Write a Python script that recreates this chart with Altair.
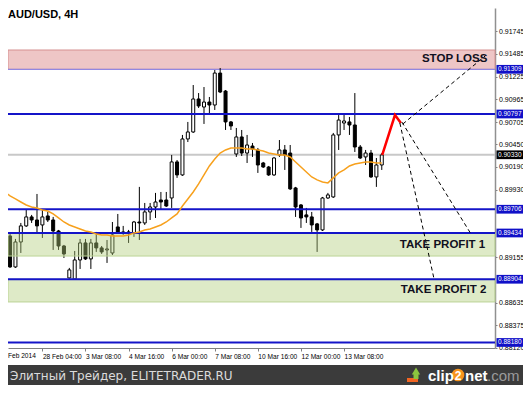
import altair as alt
import pandas as pd

# ---------------- data ----------------
# 4H bar index (k=6 -> 28 Feb 04:00, k=62 -> 13 Mar 08:00)
bar_idx = list(range(-1, 70))
opens = [0.89606, 0.89400, 0.89045, 0.89331, 0.89515, 0.89618, 0.89583, 0.89526, 0.89629, 0.89583,
         0.89457, 0.89285, 0.88919, 0.88907, 0.89125, 0.89320, 0.89137, 0.89320, 0.89263, 0.89240,
         0.89205, 0.89503, 0.89446, 0.89446, 0.89435, 0.89560, 0.89549, 0.89675, 0.89732, 0.89812,
         0.89812, 0.89835, 0.90248, 0.90099, 0.90511, 0.90591, 0.90969, 0.90877, 0.90934, 0.90900,
         0.91266, 0.91060, 0.90706, 0.90339, 0.90534, 0.90350, 0.90430, 0.90385, 0.90236, 0.90190,
         0.90099, 0.90328, 0.90385, 0.90350, 0.89950, 0.89755, 0.89641, 0.89618, 0.89538, 0.89469,
         0.89835, 0.89847, 0.90557, 0.90694, 0.90706, 0.90671, 0.90419, 0.90305, 0.90350, 0.90076,
         0.90213]
highs = [0.89652, 0.89423, 0.89366, 0.89549, 0.89698, 0.89641, 0.89881, 0.89698, 0.89675, 0.89618,
         0.89469, 0.89297, 0.89034, 0.89228, 0.89366, 0.89366, 0.89366, 0.89446, 0.89285, 0.89354,
         0.89560, 0.89652, 0.89515, 0.89469, 0.89572, 0.89962, 0.89778, 0.89778, 0.89893, 0.89904,
         0.89904, 0.90328, 0.90270, 0.90557, 0.90706, 0.91129, 0.91037, 0.91106, 0.90992, 0.91301,
         0.91324, 0.91072, 0.90717, 0.90637, 0.90614, 0.90557, 0.90465, 0.90408, 0.90248, 0.90202,
         0.90305, 0.90499, 0.90442, 0.90442, 0.89962, 0.89766, 0.89721, 0.89675, 0.89549, 0.89847,
         0.89893, 0.90580, 0.90785, 0.90797, 0.90763, 0.91037, 0.90442, 0.90385, 0.90385, 0.90293,
         0.90350]
lows = [0.89400, 0.89034, 0.89034, 0.89205, 0.89503, 0.89549, 0.89435, 0.89377, 0.89560, 0.89240,
        0.89240, 0.89148, 0.88907, 0.88896, 0.89022, 0.89125, 0.89022, 0.89217, 0.89194, 0.89091,
        0.89182, 0.89435, 0.89412, 0.89320, 0.89389, 0.89354, 0.89526, 0.89583, 0.89606, 0.89698,
        0.89732, 0.89721, 0.90065, 0.90088, 0.90476, 0.90580, 0.90866, 0.90683, 0.90808, 0.90843,
        0.91037, 0.90614, 0.90614, 0.90305, 0.90316, 0.90236, 0.90305, 0.90122, 0.90179, 0.90088,
        0.90088, 0.90305, 0.90156, 0.89927, 0.89618, 0.89492, 0.89549, 0.89446, 0.89217, 0.89457,
        0.89824, 0.89835, 0.90385, 0.90614, 0.90557, 0.90362, 0.90282, 0.90213, 0.90065, 0.89962,
        0.90156]
closes = [0.89423, 0.89045, 0.89331, 0.89515, 0.89618, 0.89583, 0.89515, 0.89618, 0.89583, 0.89457,
          0.89285, 0.89194, 0.89011, 0.89125, 0.89320, 0.89137, 0.89320, 0.89263, 0.89217, 0.89251,
          0.89412, 0.89446, 0.89435, 0.89435, 0.89560, 0.89549, 0.89675, 0.89732, 0.89789, 0.89789,
          0.89743, 0.90248, 0.90099, 0.90511, 0.90591, 0.90969, 0.90889, 0.90934, 0.90900, 0.91266,
          0.91049, 0.90706, 0.90660, 0.90534, 0.90350, 0.90442, 0.90396, 0.90213, 0.90190, 0.90099,
          0.90293, 0.90385, 0.90328, 0.89939, 0.89732, 0.89606, 0.89618, 0.89526, 0.89469, 0.89835,
          0.89870, 0.90557, 0.90728, 0.90717, 0.90671, 0.90419, 0.90293, 0.90350, 0.90076, 0.90213,
          0.90328]
moving_avg = [0.89904, 0.89858, 0.89824, 0.89789, 0.89755, 0.89732, 0.89721, 0.89698, 0.89686, 0.89652,
              0.89606, 0.89560, 0.89526, 0.89503, 0.89480, 0.89457, 0.89446, 0.89423, 0.89412, 0.89412,
              0.89400, 0.89400, 0.89400, 0.89412, 0.89435, 0.89446, 0.89469, 0.89480, 0.89503, 0.89526,
              0.89560, 0.89606, 0.89652, 0.89743, 0.89824, 0.89904, 0.89996, 0.90099, 0.90202, 0.90282,
              0.90350, 0.90385, 0.90408, 0.90408, 0.90408, 0.90396, 0.90396, 0.90385, 0.90373, 0.90350,
              0.90339, 0.90328, 0.90328, 0.90305, 0.90248, 0.90190, 0.90133, 0.90076, 0.90042, 0.90019,
              0.90008, 0.90065, 0.90122, 0.90156, 0.90202, 0.90225, 0.90236, 0.90248, 0.90248, 0.90236,
              0.90236]

tick_idx = [6, 14, 22, 30, 38, 46, 54, 62]
tick_labels = ["28 Feb 04:00", "3 Mar 08:00", "4 Mar 16:00", "6 Mar 00:00",
               "7 Mar 08:00", "10 Mar 16:00", "12 Mar 00:00", "13 Mar 08:00"]
first_label = "Feb 2014"

# visible price-scale labels (others are hidden under the level boxes)
price_ticks = [0.91745, 0.91485, 0.91225, 0.90965, 0.90705, 0.90450, 0.90190, 0.89930,
               0.89155, 0.88635, 0.88375, 0.88120]

blue_levels = [0.90797, 0.89706, 0.89434, 0.88904, 0.88180]
sl_level = 0.91309
current_price = 0.90330
boxed_labels = [0.91309, 0.90797, 0.90330, 0.89706, 0.89434, 0.88904, 0.88180]
boxed_colors = ["#1010c8", "#1010c8", "#000000", "#1010c8", "#1010c8", "#1010c8", "#1010c8"]

# zones: (top, bottom)
sl_zone = (0.91530, 0.91309)
tp_zones_top = [0.89434, 0.88904]
tp_zones_bottom = [0.89170, 0.88644]

zone_labels = ["STOP LOSS", "TAKE PROFIT  1", "TAKE PROFIT 2"]
zone_label_price = [0.91427, 0.89296, 0.88781]
zone_label_idx = [88.6, 88.2, 88.4]

# red arrow path (bar index, price)
arrow_idx = [69.09, 71.45, 72.55]
arrow_price = [0.90328, 0.90785, 0.90694]

# dashed projections: start -> end
dash_start_idx = [72.90, 72.73, 72.36]
dash_start_price = [0.90682, 0.90705, 0.90694]
dash_end_idx = [88.18, 85.45, 78.73]
dash_end_price = [0.91461, 0.89434, 0.88900]

# ---------------- scales / axes ----------------
X_SCALE = alt.Scale(domain=[0.5455, 89.0909], nice=False, zero=False)
Y_SCALE = alt.Scale(domain=[0.881166, 0.920112], nice=False, zero=False)

label_expr = " : ".join(f"datum.value == {k} ? '{t}'" for k, t in zip(tick_idx, tick_labels)) + " : ''"

x_axis = alt.Axis(values=tick_idx, labelExpr=label_expr, orient="bottom", title=None, grid=False,
                  tickSize=3, tickColor="#808080", domainColor="#808080", domainWidth=1,
                  labelAlign="left", labelBaseline="top", labelPadding=2, labelFont="Liberation Sans",
                  labelFontSize=6.6, labelColor="#000000", labelFlush=False, labelOverlap=False,
                  labelBound=False)
y_axis = alt.Axis(values=price_ticks, format=".5f", orient="right", title=None, grid=False,
                  tickSize=2, tickColor="#808080", domainColor="#909090", domainWidth=1.5,
                  labelPadding=1.5, labelFont="Liberation Sans", labelFontSize=7,
                  labelColor="#000000", labelFlush=False, labelOverlap=False, labelBound=False)


def X(f):
    return alt.X(f"{f}:Q", scale=X_SCALE, axis=x_axis)


def Y(f):
    return alt.Y(f"{f}:Q", scale=Y_SCALE, axis=y_axis)


candles = pd.DataFrame({"k": bar_idx, "o": opens, "h": highs, "l": lows, "c": closes})
candles["dir"] = ["up" if c >= o else "down" for o, c in zip(opens, closes)]
ma_df = pd.DataFrame({"k": bar_idx, "ma": moving_avg})

sl_df = pd.DataFrame({"top": [sl_zone[0]], "bot": [sl_zone[1]]})
tp_df = pd.DataFrame({"top": tp_zones_top, "bot": tp_zones_bottom})

sl_rect = alt.Chart(sl_df).mark_rect(fill="#eec6c6", stroke="#d59090", strokeWidth=1).encode(
    y=Y("top"), y2="bot")
sl_line = alt.Chart(pd.DataFrame({"p": [sl_level]})).mark_rule(color="#8080f0", strokeWidth=1).encode(y=Y("p"))
grey_line = alt.Chart(pd.DataFrame({"p": [current_price]})).mark_rule(color="#c8c8c8", strokeWidth=2).encode(y=Y("p"))

wicks = alt.Chart(candles).mark_rule(color="#000000", strokeWidth=1, clip=True).encode(
    x=X("k"), y=Y("l"), y2="h")
bodies = alt.Chart(candles).mark_bar(size=3, stroke="#000000", strokeWidth=1, clip=True).encode(
    x=X("k"), y=Y("o"), y2="c",
    fill=alt.Fill("dir:N", scale=alt.Scale(domain=["up", "down"], range=["#ffffff", "#000000"]), legend=None))

tp_rect = alt.Chart(tp_df).mark_rect(fill="#b1cd7a", fillOpacity=0.42, stroke="#bcd496", strokeWidth=1).encode(
    y=Y("top"), y2="bot")

blue_lines = alt.Chart(pd.DataFrame({"p": blue_levels})).mark_rule(color="#1414c8", strokeWidth=2).encode(y=Y("p"))

ma_line = alt.Chart(ma_df).mark_line(color="#f7a01c", strokeWidth=1.5, clip=True).encode(x=X("k"), y=Y("ma"))

arrow_df = pd.DataFrame({"k": arrow_idx, "p": arrow_price, "o": [0, 1, 2]})
arrow = alt.Chart(arrow_df).mark_line(color="#ff0000", strokeWidth=2.5, clip=True).encode(
    x=X("k"), y=Y("p"), order="o:Q")

dash_rows = []
for i in range(3):
    dash_rows.append({"seg": i, "o": 0, "k": dash_start_idx[i], "p": dash_start_price[i]})
    dash_rows.append({"seg": i, "o": 1, "k": dash_end_idx[i], "p": dash_end_price[i]})
dashes = alt.Chart(pd.DataFrame(dash_rows)).mark_line(color="#000000", strokeWidth=1, strokeDash=[4, 3], clip=True).encode(
    x=X("k"), y=Y("p"), detail="seg:N", order="o:Q")

zl_df = pd.DataFrame({"t": zone_labels, "k": zone_label_idx, "p": zone_label_price})
zone_text = alt.Chart(zl_df).mark_text(align="right", baseline="middle", font="Liberation Sans",
                                       fontWeight="bold", fontSize=11.5, color="#101020").encode(
    x=X("k"), y=Y("p"), text="t:N")

box_df = pd.DataFrame({"p": boxed_labels, "col": boxed_colors,
                       "lab": [f"{v:.5f}" for v in boxed_labels]})
box_df["top"] = box_df["p"] + 0.00050
box_df["bot"] = box_df["p"] - 0.00050
boxes = alt.Chart(box_df).mark_rect().encode(
    x=alt.value(488.5), x2=alt.value(516), y=Y("top"), y2="bot",
    fill=alt.Fill("col:N", scale=None))
box_text = alt.Chart(box_df).mark_text(align="left", baseline="middle", font="Liberation Sans",
                                       fontSize=6.5, color="#ffffff").encode(
    x=alt.value(490), y=Y("p"), text="lab:N")

title = alt.Chart(pd.DataFrame({"t": ["AUD/USD, 4H"]})).mark_text(
    align="left", baseline="middle", font="Liberation Sans", fontWeight="bold", fontSize=11,
    color="#000000").encode(x=alt.value(0), y=alt.value(7), text="t:N")

first_lab = alt.Chart(pd.DataFrame({"t": [first_label]})).mark_text(
    align="left", baseline="top", font="Liberation Sans", fontSize=6.6, color="#000000").encode(
    x=alt.value(0), y=alt.value(345), text="t:N")

footer = alt.Chart(pd.DataFrame({"a": [1]})).mark_rect(color="#3b3b3b").encode(
    x=alt.value(-8), x2=alt.value(516), y=alt.value(357), y2=alt.value(378))
footer_text = alt.Chart(pd.DataFrame({"t": ["Элитный Трейдер, ELITETRADER.RU"]})).mark_text(
    align="left", baseline="middle", font="DejaVu Sans", fontSize=12, color="#dcdcdc").encode(
    x=alt.value(2), y=alt.value(368), text="t:N")

logo_circle = alt.Chart(pd.DataFrame({"a": [1]})).mark_point(shape="circle", filled=True, size=160,
                                                              color="#f7941d", opacity=1).encode(
    x=alt.value(450), y=alt.value(367))
logo_arrow = alt.Chart(pd.DataFrame({"a": [1]})).mark_point(shape="triangle-up", filled=True, size=70,
                                                             color="#8cc63f", opacity=1).encode(
    x=alt.value(408), y=alt.value(363))
logo_stem = alt.Chart(pd.DataFrame({"a": [1]})).mark_rect(color="#8cc63f").encode(
    x=alt.value(405.5), x2=alt.value(410.5), y=alt.value(365), y2=alt.value(371))
logo_base = alt.Chart(pd.DataFrame({"a": [1]})).mark_rect(color="#f26522").encode(
    x=alt.value(399), x2=alt.value(410), y=alt.value(370), y2=alt.value(374))
logo_clip = alt.Chart(pd.DataFrame({"t": ["clip"]})).mark_text(
    align="left", baseline="middle", font="Liberation Sans", fontWeight="bold", fontSize=15,
    color="#ffffff").encode(x=alt.value(420), y=alt.value(368), text="t:N")
logo_two = alt.Chart(pd.DataFrame({"t": ["2"]})).mark_text(
    align="center", baseline="middle", font="Liberation Sans", fontWeight="bold", fontSize=12,
    color="#ffffff").encode(x=alt.value(450), y=alt.value(368), text="t:N")
logo_net = alt.Chart(pd.DataFrame({"t": ["net"]})).mark_text(
    align="left", baseline="middle", font="Liberation Sans", fontWeight="bold", fontSize=15,
    color="#ffffff").encode(x=alt.value(457), y=alt.value(368), text="t:N")
logo_com = alt.Chart(pd.DataFrame({"t": [".com"]})).mark_text(
    align="left", baseline="middle", font="Liberation Sans", fontSize=15,
    color="#9a9a9a").encode(x=alt.value(479), y=alt.value(368), text="t:N")

chart = alt.layer(
    sl_rect, sl_line, grey_line, wicks, bodies, tp_rect, blue_lines, ma_line, arrow, dashes,
    zone_text, boxes, box_text, title, first_lab, footer, footer_text,
    logo_base, logo_stem, logo_arrow, logo_circle, logo_clip, logo_two, logo_net, logo_com
).properties(
    width=487, height=340,
    autosize=alt.AutoSizeParams(type="none"),
    padding={"left": 0, "top": 0, "right": 28, "bottom": 37},
    background="#ffffff"
).configure_view(stroke="transparent")

chart.save("out.html", embed_options={"renderer": "svg", "actions": False})
